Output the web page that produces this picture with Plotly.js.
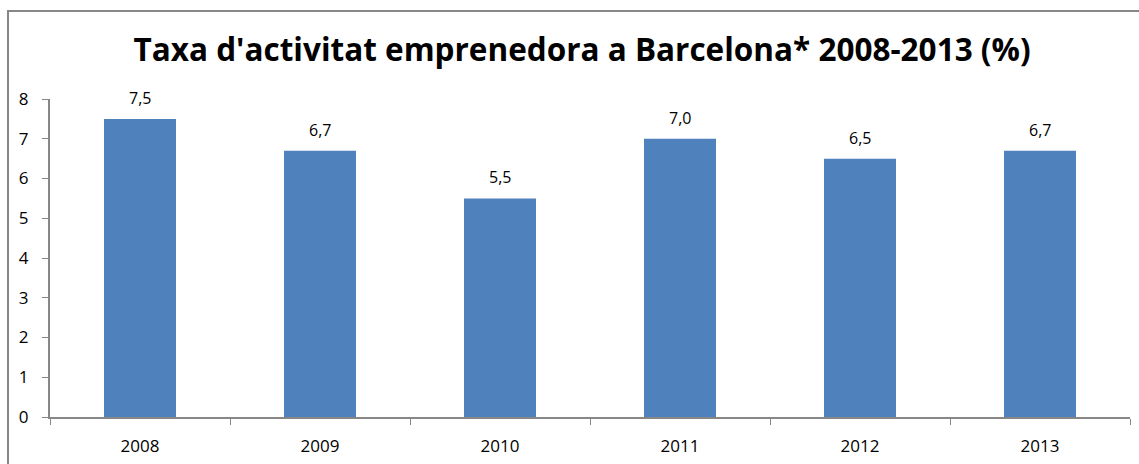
<!DOCTYPE html>
<html><head><meta charset="utf-8">
<script src="https://cdn.plot.ly/plotly-3.0.1.min.js"></script>
<style>
html,body{margin:0;padding:0;background:#fff;}
#wrap{position:relative;width:1139px;height:464px;overflow:hidden;}
#chart{position:absolute;left:0;top:0;width:1139px;height:464px;}
#frame{position:absolute;left:7px;top:10px;width:1200px;height:500px;border-top:2px solid #878787;border-left:2px solid #878787;pointer-events:none;}
</style></head>
<body>
<div id="wrap"><div id="chart"></div><div id="frame"></div></div>
<script>
const years = ['2008','2009','2010','2011','2012','2013'];
const rates = [7.5, 6.7, 5.5, 7.0, 6.5, 6.7];
const yTicks = [0,1,2,3,4,5,6,7,8];
const titleText = "Taxa d'activitat emprenedora a Barcelona* 2008-2013 (%)";

const font = "Open Sans, Liberation Sans, sans-serif";
const labels = years.map((yr, i) => ({
  x: i, y: rates[i], xref: 'x', yref: 'y',
  text: rates[i].toFixed(1).replace('.', ','),
  showarrow: false, yanchor: 'bottom', yshift: 8,
  font: {family: font, size: 16, color: '#000'}
}));
Plotly.newPlot('chart', [{
  type: 'bar', x: years, y: rates,
  marker: {color: '#4F81BD'},
  width: 0.4,
  hoverinfo: 'none'
}], {
  width: 1139, height: 464,
  margin: {l: 50, r: 9, t: 99, b: 47},
  paper_bgcolor: '#fff', plot_bgcolor: '#fff',
  showlegend: false,
  annotations: labels,
  title: {text: '<b>' + titleText + '</b>', font: {family: font, size: 31.5, color: '#000'},
          x: 0.511, xanchor: 'center', y: 1 - 50/464, yanchor: 'middle', yref: 'container'},
  xaxis: {type: 'category', tickson: 'boundaries', ticks: 'outside', ticklen: 6, tickcolor: '#878787',
          showline: true, linecolor: '#878787', linewidth: 2, showgrid: false, zeroline: false,
          tickfont: {family: font, size: 17, color: '#000'}, ticklabelstandoff: 13},
  yaxis: {range: [0, 8], tickvals: yTicks, ticks: 'outside', ticklen: 6, tickcolor: '#878787',
          showline: true, linecolor: '#878787', linewidth: 2, showgrid: false, zeroline: false,
          tickfont: {family: font, size: 17, color: '#000'}, ticklabelstandoff: 10}
}, {displayModeBar: false, staticPlot: true});
</script>
</body></html>
